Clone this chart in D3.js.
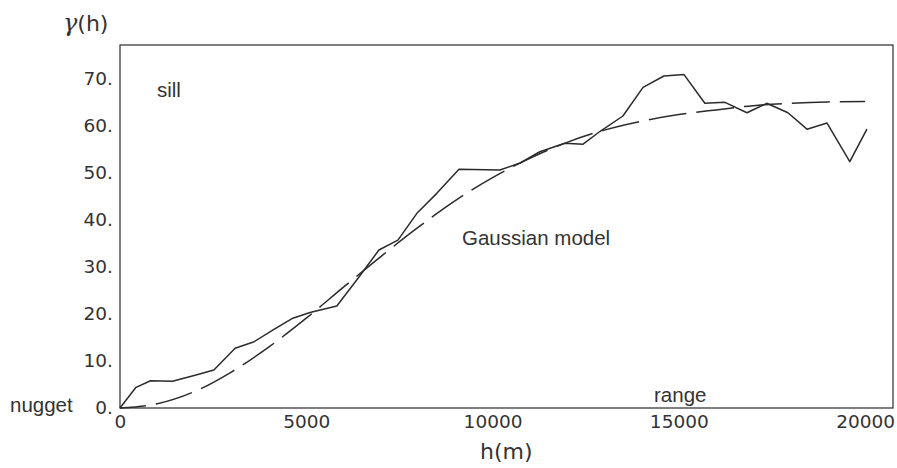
<!DOCTYPE html>
<html>
<head>
<meta charset="utf-8">
<script src="https://cdn.jsdelivr.net/npm/d3@7"></script>
<style>
  html, body { margin: 0; padding: 0; background: #fff; }
  svg { display: block; }
</style>
</head>
<body>
<svg id="chart" width="897" height="468"></svg>
<script>
// ---- data ----
const expLag = [0, 430, 820, 1410, 2040, 2520, 3090, 3600, 4110, 4640, 5100, 5820, 6390, 6950, 7460, 7970, 8510, 9100, 10200, 10740, 11270, 11940, 12430, 12880, 13500, 14040, 14600, 15140, 15700, 16240, 16830, 17360, 17930, 18440, 18980, 19590, 20050];
const expGamma = [0, 4.4, 5.8, 5.7, 7.0, 8.1, 12.7, 14.1, 16.6, 19.1, 20.3, 21.7, 27.6, 33.6, 35.7, 41.4, 45.7, 50.8, 50.6, 52.1, 54.5, 56.3, 56.1, 58.8, 62.1, 68.2, 70.6, 70.9, 64.8, 65.0, 62.8, 64.8, 62.8, 59.3, 60.6, 52.4, 59.3];
const modelLag = [0, 1000, 2000, 3000, 4000, 5000, 6000, 7000, 8000, 9000, 10000, 11000, 12000, 13000, 14000, 15000, 16000, 17000, 18000, 19000, 20000];
const modelGamma = [0, 0.9, 3.5, 7.7, 13.0, 19.1, 25.7, 32.2, 38.4, 44.1, 49.0, 53.1, 56.5, 59.1, 61.0, 62.4, 63.4, 64.3, 64.8, 65.1, 65.2];
const xTicks = [0, 5000, 10000, 15000, 20000];
const yTicks = [0, 10, 20, 30, 40, 50, 60, 70];

// ---- layout ----
const svg = d3.select("#chart");
const mLeft = 120, mRight = 893, mTop = 45, mBottom = 408;
const xMax = 20750, yMax = 77.2;
const x = d3.scaleLinear().domain([0, xMax]).range([mLeft, mRight]);
const y = d3.scaleLinear().domain([0, yMax]).range([mBottom, mTop]);
const ink = "#2b2b2b";

// frame
svg.append("rect")
  .attr("x", x(0)).attr("y", y(yMax))
  .attr("width", x(xMax) - x(0)).attr("height", y(0) - y(yMax))
  .attr("fill", "none").attr("stroke", ink).attr("stroke-width", 1.2);

// axes
const yAxis = d3.axisLeft(y).tickValues(yTicks).tickSize(0).tickPadding(7)
  .tickFormat(d => d + ".");
const gy = svg.append("g").attr("transform", `translate(${x(0)},0)`).call(yAxis);
gy.select(".domain").remove();
gy.selectAll("text").attr("font-family", "DejaVu Sans").attr("font-size", 18.5).attr("fill", "#333");

const xAxis = d3.axisBottom(x).tickValues(xTicks).tickSize(0).tickPadding(7)
  .tickFormat(d => String(d));
const gx = svg.append("g").attr("transform", `translate(0,${y(0)})`).call(xAxis);
gx.select(".domain").remove();
gx.selectAll("text").attr("font-family", "DejaVu Sans").attr("font-size", 18.5).attr("fill", "#333");

// model (dashed)
const modelLine = d3.line().x(d => x(d[0])).y(d => y(d[1])).curve(d3.curveMonotoneX);
svg.append("path")
  .datum(modelLag.map((h, i) => [h, modelGamma[i]]))
  .attr("d", modelLine)
  .attr("fill", "none").attr("stroke", ink).attr("stroke-width", 1.5)
  .attr("stroke-dasharray", "38,10").attr("stroke-dashoffset", 12);

// experimental (solid)
const expLine = d3.line().x(d => x(d[0])).y(d => y(d[1]));
svg.append("path")
  .datum(expLag.map((h, i) => [h, expGamma[i]]))
  .attr("d", expLine)
  .attr("fill", "none").attr("stroke", ink).attr("stroke-width", 1.5)
  .attr("stroke-linejoin", "round");

// annotations
const ann = (txt, px, py) => svg.append("text").text(txt)
  .attr("x", px).attr("y", py)
  .attr("font-family", "Liberation Sans, Arial, sans-serif")
  .attr("font-size", 20.5).attr("fill", "#333");
ann("sill", 157, 97);
ann("nugget", 10, 412);
ann("range", 654, 402);
ann("Gaussian model", 462, 245);

// axis titles
const yt = svg.append("text").attr("x", 63).attr("y", 31).attr("fill", "#333");
yt.append("tspan").text("γ").attr("font-family", "DejaVu Serif").attr("font-style", "italic").attr("font-size", 24);
yt.append("tspan").text("(h)").attr("font-family", "DejaVu Sans").attr("font-size", 22);

svg.append("text").text("h(m)")
  .attr("x", 480).attr("y", 459)
  .attr("font-family", "DejaVu Sans").attr("font-size", 22).attr("fill", "#333");
</script>
</body>
</html>
